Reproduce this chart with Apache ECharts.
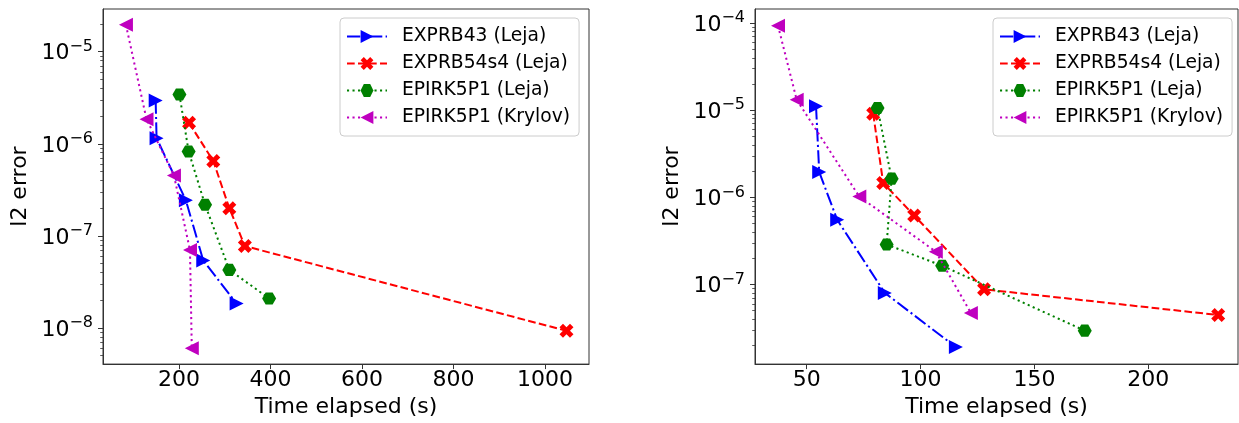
<!DOCTYPE html>
<html>
<head>
<meta charset="utf-8">
<script src="https://cdn.jsdelivr.net/npm/echarts@6/dist/echarts.min.js"></script>
<style>
html,body{margin:0;padding:0;background:#fff;}
#c{width:1239px;height:423px;}
</style>
</head>
<body>
<div id="c"></div>
<script>
// ---------- data ----------
const seriesNames = ['EXPRB43 (Leja)', 'EXPRB54s4 (Leja)', 'EPIRK5P1 (Leja)', 'EPIRK5P1 (Krylov)'];

// Left panel
const L_EXPRB43_t   = [149, 151, 215, 253, 326];
const L_EXPRB43_e   = [2.96e-6, 1.15e-6, 2.44e-7, 5.4e-8, 1.84e-8];
const L_EXPRB54_t   = [222, 275, 310, 344, 1047];
const L_EXPRB54_e   = [1.69e-6, 6.5e-7, 2.0e-7, 7.75e-8, 9.3e-9];
const L_EPIRKL_t    = [201, 221, 257, 310, 397];
const L_EPIRKL_e    = [3.43e-6, 8.26e-7, 2.18e-7, 4.27e-8, 2.09e-8];
const L_EPIRKK_t    = [84, 129, 189, 224, 228];
const L_EPIRKK_e    = [1.96e-5, 1.85e-6, 4.53e-7, 7.0e-8, 6.0e-9];

// Right panel
const R_EXPRB43_t   = [54.1, 55.5, 63.4, 84.3, 115.5];
const R_EXPRB43_e   = [1.11e-5, 1.95e-6, 5.53e-7, 8.0e-8, 1.91e-8];
const R_EXPRB54_t   = [79.2, 83.6, 97.2, 127.9, 230.7];
const R_EXPRB54_e   = [9.1e-6, 1.46e-6, 6.2e-7, 8.8e-8, 4.46e-8];
const R_EPIRKL_t    = [81.1, 87.3, 85.1, 109.5, 172.1];
const R_EPIRKL_e    = [1.06e-5, 1.64e-6, 2.88e-7, 1.64e-7, 2.95e-8];
const R_EPIRKK_t    = [37.4, 45.6, 73.1, 106.7, 122.1];
const R_EPIRKK_e    = [9.35e-5, 1.32e-5, 1.02e-6, 2.38e-7, 4.72e-8];

// Tick labels / tick positions
const L_xTicks = [200, 400, 600, 800, 1000];
const R_xTicks = [50, 100, 150, 200];
const L_yMajor = [1e-8, 1e-7, 1e-6, 1e-5];
const R_yMajor = [1e-7, 1e-6, 1e-5, 1e-4];
const L_yMinor = [5e-9,6e-9,7e-9,8e-9,9e-9, 2e-8,3e-8,4e-8,5e-8,6e-8,7e-8,8e-8,9e-8,
                  2e-7,3e-7,4e-7,5e-7,6e-7,7e-7,8e-7,9e-7, 2e-6,3e-6,4e-6,5e-6,6e-6,7e-6,8e-6,9e-6, 2e-5];
const R_yMinor = [2e-8,3e-8,4e-8,5e-8,6e-8,7e-8,8e-8,9e-8, 2e-7,3e-7,4e-7,5e-7,6e-7,7e-7,8e-7,9e-7,
                  2e-6,3e-6,4e-6,5e-6,6e-6,7e-6,8e-6,9e-6, 2e-5,3e-5,4e-5,5e-5,6e-5,7e-5,8e-5,9e-5];

// axis ranges
const L_xRange = [33.9, 1096.2];
const R_xRange = [27.3, 239.4];
const L_yRange = [Math.pow(10, -8.393), Math.pow(10, -4.536)];
const R_yRange = [Math.pow(10, -7.914), Math.pow(10, -3.838)];

// ---------- styles ----------
const FONT = 'DejaVu Sans';
const zip = (a, b) => a.map((v, i) => [v, b[i]]);
const XPATH = 'path://M1,0 L2,1 L3,0 L4,1 L3,2 L4,3 L3,4 L2,3 L1,4 L0,3 L1,2 L0,1 Z';
const HPATH = 'path://M0,0.866 L0.5,0 L1.5,0 L2,0.866 L1.5,1.732 L0.5,1.732 Z';
const styles = [
  {color: '#0000ff', dash: [13.3, 3.3, 2.1, 3.3], symbol: 'triangle', rot: -90, size: [14, 14]},
  {color: '#ff0000', dash: [7.7, 3.3], symbol: XPATH, rot: 0, size: [14, 14]},
  {color: '#008000', dash: [2.1, 3.4], symbol: HPATH, rot: 0, size: [14, 12.1]},
  {color: '#bf00bf', dash: [2.1, 3.4], symbol: 'triangle', rot: 90, size: [14, 14]}
];

function mkSeries(idx, pairs) {
  return pairs.map((p, i) => ({
    name: seriesNames[i],
    type: 'line',
    xAxisIndex: idx,
    yAxisIndex: idx * 2,
    data: zip(p[0], p[1]),
    symbol: styles[i].symbol,
    symbolSize: styles[i].size,
    symbolRotate: styles[i].rot,
    showAllSymbol: true,
    lineStyle: {color: styles[i].color, width: 2, type: styles[i].dash},
    itemStyle: {color: styles[i].color, borderWidth: 0},
    emphasis: {disabled: true},
    animation: false,
    z: 2 + i
  }));
}

const yLabelFmt = v => {
  const e = Math.round(Math.log10(v));
  return '{b|10}{s|' + (e < 0 ? '\u2212' : '') + Math.abs(e) + '}';
};

function xAxis(grid, range, ticks) {
  return {
    type: 'value', gridIndex: grid, min: range[0], max: range[1],
    name: 'Time elapsed (s)', nameLocation: 'middle', nameGap: 22,
    nameTextStyle: {fontFamily: FONT, fontSize: 22, color: '#000'},
    axisLine: {show: true, onZero: false, lineStyle: {color: '#333', width: 1}},
    axisTick: {show: true, length: 5, lineStyle: {color: '#333', width: 1}, customValues: ticks},
    axisLabel: {fontFamily: FONT, fontSize: 22, color: '#000', margin: 5, customValues: ticks,
                formatter: v => String(Math.round(v))},
    splitLine: {show: false}
  };
}
function yAxisMajor(grid, range, ticks) {
  return {
    type: 'log', logBase: 10, gridIndex: grid, min: range[0], max: range[1],
    name: 'l2 error', nameLocation: 'middle', nameGap: 72, nameRotate: 90,
    nameTextStyle: {fontFamily: FONT, fontSize: 22, color: '#000'},
    axisLine: {show: true, onZero: false, lineStyle: {color: '#333', width: 1}},
    axisTick: {show: true, length: 5, lineStyle: {color: '#333', width: 1}, customValues: ticks},
    axisLabel: {
      margin: 10, customValues: ticks, formatter: yLabelFmt,
      rich: {
        b: {fontFamily: FONT, fontSize: 22, color: '#000', lineHeight: 26, verticalAlign: 'bottom'},
        s: {fontFamily: FONT, fontSize: 16, color: '#000', lineHeight: 16, verticalAlign: 'top'}
      }
    },
    splitLine: {show: false}
  };
}
function yAxisMinor(grid, range, ticks) {
  return {
    type: 'log', logBase: 10, gridIndex: grid, min: range[0], max: range[1], position: 'left',
    axisLine: {show: false},
    axisTick: {show: true, length: 2.8, lineStyle: {color: '#333', width: 0.8}, customValues: ticks},
    axisLabel: {show: false},
    splitLine: {show: false}
  };
}
function legend(left) {
  return {
    show: true, orient: 'vertical', left: left, top: 18,
    data: seriesNames,
    itemWidth: 40, itemHeight: 16, itemGap: 8,
    padding: [9, 9, 9, 6],
    backgroundColor: 'rgba(255,255,255,0.8)',
    borderColor: '#cccccc', borderWidth: 1, borderRadius: 4,
    formatter: n => '{t|' + n + '}',
    textStyle: {
      fontFamily: FONT, fontSize: 18.7, color: '#000',
      rich: {t: {fontFamily: FONT, fontSize: 18.7, color: '#000', lineHeight: 20, padding: [0, 0, 0, 10]}}
    },
    selectedMode: false
  };
}

const option = {
  animation: false,
  backgroundColor: '#fff',
  grid: [
    {left: 103, top: 9, width: 486, height: 360, show: true, borderColor: '#333', borderWidth: 1, backgroundColor: 'transparent'},
    {left: 755, top: 9, width: 483, height: 360, show: true, borderColor: '#333', borderWidth: 1, backgroundColor: 'transparent'}
  ],
  xAxis: [xAxis(0, L_xRange, L_xTicks), xAxis(1, R_xRange, R_xTicks)],
  yAxis: [
    yAxisMajor(0, L_yRange, L_yMajor), yAxisMinor(0, L_yRange, L_yMinor),
    yAxisMajor(1, R_yRange, R_yMajor), yAxisMinor(1, R_yRange, R_yMinor)
  ],
  legend: [legend(340), legend(993)],
  series: [].concat(
    mkSeries(0, [[L_EXPRB43_t, L_EXPRB43_e], [L_EXPRB54_t, L_EXPRB54_e], [L_EPIRKL_t, L_EPIRKL_e], [L_EPIRKK_t, L_EPIRKK_e]]),
    mkSeries(1, [[R_EXPRB43_t, R_EXPRB43_e], [R_EXPRB54_t, R_EXPRB54_e], [R_EPIRKL_t, R_EPIRKL_e], [R_EPIRKK_t, R_EPIRKK_e]])
  )
};
const chart = echarts.init(document.getElementById('c'), null, {renderer: 'canvas'});
chart.setOption(option);
</script>
</body>
</html>
